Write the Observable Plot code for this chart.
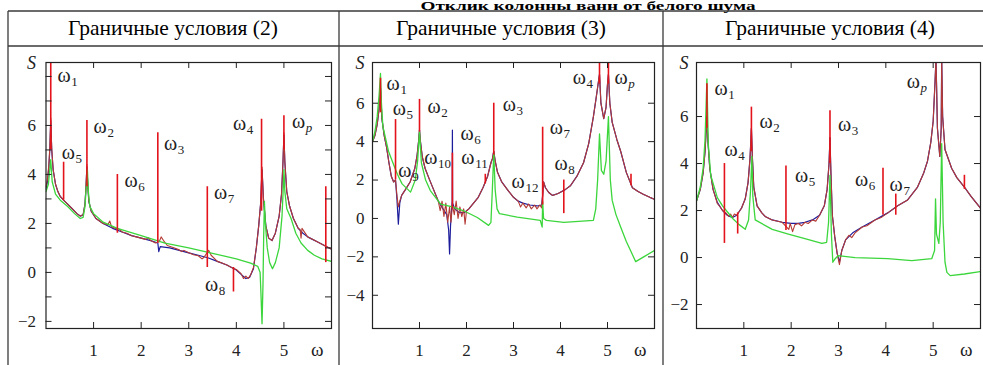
<!DOCTYPE html>
<html><head><meta charset="utf-8">
<script src="https://cdn.jsdelivr.net/npm/d3@7"></script>
<script src="https://cdn.jsdelivr.net/npm/@observablehq/plot@0.6"></script>
<style>
body{margin:0;background:#fff;}
#page{position:relative;width:983px;height:365px;overflow:hidden;font-family:"Liberation Serif","Times New Roman",Tinos,"DejaVu Serif",serif;}
#page svg{position:absolute;}
</style></head><body><div id="page"></div>
<script>
// ---------- data ----------
const figTitle = "Отклик колонны ванн от белого шума";
const panelTitles = ["Граничные условия (2)", "Граничные условия (3)", "Граничные условия (4)"];
const xTickValues = [1, 2, 3, 4, 5];

// Panel 1 (boundary conditions 2)
const p1Blue = [[0,3.4],[0.03,3.7],[0.06,4.3],[0.08,5.0],[0.1,6.2],[0.12,5.0],[0.15,4.2],[0.2,3.6],[0.25,3.3],[0.3,3.1],[0.37,2.95],[0.45,2.8],[0.55,2.6],[0.65,2.4],[0.72,2.3],[0.78,2.35],[0.82,2.8],[0.84,3.5],[0.86,4.3],[0.88,3.5],[0.9,2.9],[0.95,2.5],[1.05,2.2],[1.2,2.0],[1.4,1.8],[1.6,1.65],[1.8,1.5],[2.0,1.4],[2.2,1.3],[2.35,1.2],[2.37,0.85],[2.4,1.05],[2.6,1.0],[2.8,0.9],[3.0,0.8],[3.2,0.7],[3.4,0.6],[3.6,0.45],[3.8,0.3],[4.0,0.1],[4.1,-0.08],[4.2,-0.25],[4.28,-0.2],[4.36,0.15],[4.42,1.0],[4.47,1.9],[4.51,2.8],[4.54,4.2],[4.57,3.0],[4.62,1.9],[4.68,1.4],[4.75,1.3],[4.82,1.6],[4.9,2.3],[4.95,3.2],[4.98,4.5],[5.0,5.6],[5.02,4.5],[5.06,3.3],[5.12,2.7],[5.2,2.2],[5.3,1.8],[5.4,1.6],[5.5,1.45],[5.6,1.35],[5.7,1.25],[5.8,1.15],[5.9,1.05],[6.0,0.95]];
const p1Red = [[0,3.5],[0.03,3.8],[0.06,4.4],[0.08,5.1],[0.1,6.3],[0.12,5.1],[0.15,4.2],[0.2,3.6],[0.25,3.3],[0.3,3.1],[0.37,2.95],[0.45,2.8],[0.55,2.6],[0.65,2.4],[0.72,2.3],[0.78,2.35],[0.82,2.8],[0.84,3.5],[0.86,4.4],[0.88,3.5],[0.9,2.9],[0.95,2.5],[1.05,2.2],[1.2,2.0],[1.3,1.95],[1.34,2.1],[1.38,1.85],[1.45,1.8],[1.55,1.75],[1.6,1.65],[1.7,1.6],[1.8,1.5],[1.9,1.45],[2.0,1.4],[2.1,1.35],[2.15,1.42],[2.2,1.3],[2.3,1.2],[2.38,1.25],[2.42,1.45],[2.47,1.3],[2.55,1.1],[2.7,1.0],[2.8,0.92],[2.85,0.85],[2.9,0.9],[3.0,0.8],[3.1,0.72],[3.2,0.68],[3.28,0.55],[3.32,0.62],[3.42,0.9],[3.47,0.7],[3.6,0.45],[3.7,0.38],[3.8,0.3],[3.9,0.2],[4.0,0.12],[4.1,-0.05],[4.15,-0.25],[4.2,-0.15],[4.25,-0.25],[4.3,-0.1],[4.36,0.2],[4.42,1.0],[4.47,1.9],[4.51,2.8],[4.54,4.3],[4.57,3.0],[4.62,1.9],[4.68,1.4],[4.75,1.3],[4.82,1.6],[4.9,2.3],[4.95,3.2],[4.98,4.5],[5.0,5.7],[5.02,4.5],[5.06,3.3],[5.12,2.7],[5.2,2.2],[5.3,1.8],[5.34,1.75],[5.36,1.4],[5.38,1.8],[5.5,1.45],[5.6,1.35],[5.7,1.25],[5.8,1.15],[5.9,1.05],[6.0,0.95]];
const p1Green = [[0,3.3],[0.05,3.6],[0.1,4.6],[0.13,3.7],[0.2,3.2],[0.3,2.95],[0.45,2.7],[0.6,2.4],[0.72,2.2],[0.78,2.25],[0.82,2.7],[0.85,3.6],[0.87,4.2],[0.89,3.3],[0.92,2.7],[1.0,2.4],[1.2,2.05],[1.5,1.8],[2.0,1.5],[2.5,1.2],[3.0,1.0],[3.5,0.78],[4.0,0.55],[4.3,0.38],[4.45,0.25],[4.5,0.0],[4.52,-1.0],[4.54,-2.1],[4.56,-0.5],[4.575,1.5],[4.59,2.9],[4.61,2.0],[4.65,1.0],[4.7,0.4],[4.76,0.15],[4.82,0.4],[4.9,1.0],[4.96,2.3],[4.99,3.6],[5.0,4.2],[5.02,3.3],[5.06,2.6],[5.15,2.2],[5.25,1.6],[5.36,1.2],[5.5,0.9],[5.64,0.7],[5.8,0.55],[6.0,0.45]];
const p1Spikes = [[0.1,5.0,9.5],[0.37,2.95,4.5],[0.86,3.5,6.2],[1.5,1.6,4.0],[2.35,1.2,5.7],[3.39,0.2,3.5],[3.94,-0.8,0.2],[4.53,2.5,6.25],[5.0,5.0,6.4],[5.88,0.4,3.5]];
const p1Labels = [["1",0.24,7.76],["5",0.33,4.65],["2",1.0,5.7],["6",1.65,3.47],["3",2.48,4.98],["7",3.53,3.0],["4",3.93,5.8],["p",5.17,5.88],["8",3.34,-0.77]];

// Panel 2 (boundary conditions 3)
const p2Blue = [[0,4.0],[0.05,4.3],[0.1,4.9],[0.14,5.7],[0.17,6.8],[0.2,5.2],[0.25,4.3],[0.3,3.7],[0.35,2.9],[0.4,2.2],[0.45,1.9],[0.49,2.0],[0.52,1.0],[0.55,-0.3],[0.58,0.8],[0.62,1.2],[0.7,1.5],[0.8,1.9],[0.9,2.6],[0.95,3.3],[0.98,4.0],[1.0,4.6],[1.02,4.0],[1.06,3.2],[1.12,2.6],[1.2,2.1],[1.3,1.5],[1.4,0.9],[1.5,0.5],[1.58,0.2],[1.62,-0.6],[1.64,-1.85],[1.66,-0.4],[1.695,0.9],[1.7,4.6],[1.705,0.8],[1.75,0.5],[1.85,0.3],[1.95,0.3],[2.05,0.5],[2.15,0.8],[2.25,1.1],[2.35,1.6],[2.45,2.2],[2.52,2.9],[2.55,3.1],[2.58,3.5],[2.61,3.0],[2.66,2.4],[2.75,1.9],[2.87,1.5],[3.0,1.1],[3.1,0.9],[3.2,0.8],[3.35,0.7],[3.5,0.65],[3.6,0.7],[3.62,1.2],[3.64,1.9],[3.68,1.6],[3.75,1.35],[3.83,1.2],[3.95,1.3],[4.1,1.5],[4.21,1.7],[4.35,2.2],[4.49,2.9],[4.6,3.9],[4.7,5.3],[4.76,6.3],[4.8,7.0],[4.83,7.5],[4.86,6.0],[4.92,5.2],[4.97,5.8],[5.0,7.0],[5.02,7.5],[5.05,6.0],[5.1,5.0],[5.2,4.1],[5.28,3.5],[5.4,2.4],[5.53,1.6],[5.65,1.4],[5.77,1.25],[5.9,1.1],[6.0,1.0]];
const p2Red = [[0,4.0],[0.05,4.3],[0.1,4.9],[0.14,5.7],[0.17,6.8],[0.2,5.2],[0.25,4.3],[0.3,3.7],[0.35,2.9],[0.4,2.2],[0.45,1.9],[0.49,2.0],[0.52,1.2],[0.55,0.6],[0.58,0.9],[0.62,1.2],[0.7,1.5],[0.8,1.9],[0.9,2.6],[0.95,3.3],[0.98,4.0],[1.0,4.6],[1.02,4.0],[1.06,3.2],[1.12,2.6],[1.2,2.1],[1.3,1.5],[1.4,0.9],[1.44,0.4],[1.48,0.9],[1.52,0.1],[1.56,0.8],[1.6,-0.2],[1.64,0.6],[1.67,-0.2],[1.7,0.7],[1.74,0.2],[1.78,0.9],[1.82,0.0],[1.86,0.6],[1.9,0.1],[1.94,0.5],[1.97,-0.3],[2.0,0.4],[2.05,0.5],[2.15,0.8],[2.25,1.1],[2.35,1.6],[2.45,2.2],[2.52,2.9],[2.55,3.1],[2.58,3.5],[2.61,3.0],[2.66,2.4],[2.75,1.9],[2.87,1.5],[3.0,1.1],[3.1,0.9],[3.15,0.6],[3.2,0.8],[3.27,0.55],[3.32,0.75],[3.38,0.5],[3.45,0.7],[3.5,0.5],[3.56,0.7],[3.6,0.55],[3.62,1.2],[3.64,1.9],[3.68,1.6],[3.75,1.35],[3.83,1.2],[3.95,1.3],[4.1,1.5],[4.21,1.7],[4.35,2.2],[4.49,2.9],[4.6,3.9],[4.7,5.3],[4.76,6.3],[4.8,7.0],[4.83,7.5],[4.86,6.0],[4.92,5.2],[4.97,5.8],[5.0,7.0],[5.02,7.5],[5.05,6.0],[5.1,5.0],[5.2,4.1],[5.28,3.5],[5.4,2.4],[5.53,1.6],[5.65,1.4],[5.77,1.25],[5.9,1.1],[6.0,1.0]];
const p2Green = [[0,4.0],[0.05,4.5],[0.1,5.3],[0.14,6.4],[0.17,7.55],[0.19,6.0],[0.22,4.8],[0.34,3.5],[0.45,2.8],[0.53,2.3],[0.63,1.8],[0.81,1.37],[0.91,2.0],[0.96,3.0],[1.0,4.5],[1.04,2.9],[1.13,2.0],[1.23,1.45],[1.45,0.75],[1.7,0.6],[1.94,0.4],[2.23,0.05],[2.47,-0.36],[2.52,-0.2],[2.55,1.5],[2.58,3.4],[2.61,1.5],[2.65,0.5],[2.7,0.25],[3.08,0.07],[3.57,-0.1],[3.61,-0.45],[3.62,0.9],[3.64,0.0],[3.7,-0.1],[4.07,-0.2],[4.7,-0.1],[4.75,0.5],[4.79,2.0],[4.83,4.4],[4.87,2.5],[4.92,2.3],[4.97,3.0],[5.02,5.3],[5.06,2.0],[5.1,0.94],[5.18,0.2],[5.28,-0.45],[5.4,-1.2],[5.49,-1.67],[5.6,-2.25],[5.77,-2.0],[6.0,-1.67]];
const p2Spikes = [[0.17,5.5,7.3],[0.49,2.0,5.15],[1.0,4.5,6.2],[1.7,0.5,3.4],[2.4,1.8,2.3],[2.58,3.3,6.0],[3.62,0.7,4.75],[4.07,0.25,2.0],[4.83,7.0,8.5],[5.02,7.0,8.5],[5.5,1.7,2.3]];
const p2Labels = [["1",0.3,6.7],["5",0.43,5.4],["2",1.17,5.5],["6",1.87,4.06],["10",1.1,2.86],["11",1.89,2.86],["9",0.55,2.14],["3",2.77,5.6],["7",3.77,4.4],["12",2.96,1.56],["8",3.87,2.5],["4",4.26,7.0],["p",5.15,7.0]];

// Panel 3 (boundary conditions 4)
const p3Blue = [[0,2.4],[0.08,2.9],[0.14,3.6],[0.18,4.5],[0.21,5.6],[0.22,6.0],[0.24,5.0],[0.28,3.8],[0.35,2.9],[0.44,2.35],[0.55,2.0],[0.65,1.8],[0.76,1.7],[0.85,1.8],[0.95,2.1],[1.03,2.5],[1.09,3.2],[1.13,4.2],[1.16,5.5],[1.18,4.3],[1.21,3.0],[1.28,2.2],[1.38,1.9],[1.45,1.75],[1.6,1.6],[1.81,1.5],[2.0,1.45],[2.15,1.45],[2.29,1.5],[2.45,1.6],[2.6,1.8],[2.7,2.2],[2.76,2.9],[2.8,4.0],[2.82,5.1],[2.84,3.6],[2.87,1.8],[2.92,0.9],[2.97,0.2],[3.02,-0.2],[3.07,0.3],[3.15,0.75],[3.3,1.05],[3.5,1.3],[3.77,1.6],[4.04,1.9],[4.25,2.2],[4.46,2.45],[4.67,3.0],[4.8,3.6],[4.88,4.1],[4.95,4.9],[5.0,5.8],[5.04,7.5],[5.06,8.5],[5.09,5.5],[5.14,4.3],[5.17,5.5],[5.18,8.5],[5.2,6.0],[5.25,4.6],[5.39,3.8],[5.5,3.4],[5.66,3.0],[5.8,2.6],[6.0,2.1]];
const p3Red = [[0,2.4],[0.08,2.9],[0.14,3.6],[0.18,4.5],[0.21,5.6],[0.22,6.0],[0.24,5.0],[0.28,3.8],[0.35,2.9],[0.44,2.3],[0.5,2.15],[0.55,2.0],[0.62,1.9],[0.68,1.75],[0.72,1.85],[0.76,1.7],[0.8,1.85],[0.85,1.8],[0.95,2.1],[1.03,2.5],[1.09,3.2],[1.13,4.2],[1.16,5.5],[1.18,4.3],[1.21,3.0],[1.28,2.2],[1.38,1.9],[1.45,1.75],[1.6,1.6],[1.81,1.5],[1.95,1.2],[1.98,1.45],[2.03,1.1],[2.08,1.4],[2.15,1.45],[2.22,1.35],[2.29,1.5],[2.36,1.45],[2.45,1.6],[2.52,1.55],[2.6,1.8],[2.7,2.2],[2.76,2.9],[2.8,4.0],[2.82,5.1],[2.84,3.6],[2.87,1.8],[2.92,0.9],[2.97,0.2],[3.02,-0.3],[3.07,0.3],[3.15,0.75],[3.22,0.95],[3.28,0.85],[3.35,1.05],[3.5,1.3],[3.6,1.35],[3.77,1.6],[3.9,1.7],[4.04,1.9],[4.25,2.2],[4.46,2.45],[4.67,3.0],[4.8,3.6],[4.88,4.1],[4.95,4.9],[5.0,5.8],[5.04,7.5],[5.06,8.5],[5.09,5.5],[5.14,4.3],[5.17,5.5],[5.18,8.5],[5.2,6.0],[5.25,4.6],[5.39,3.8],[5.5,3.4],[5.66,3.0],[5.8,2.6],[6.0,2.1]];
const p3Green = [[0,2.4],[0.08,3.0],[0.14,3.8],[0.18,5.0],[0.22,7.6],[0.25,4.8],[0.3,3.5],[0.44,2.55],[0.55,2.2],[0.77,1.65],[0.9,1.4],[1.03,1.2],[1.1,1.6],[1.14,2.8],[1.17,4.3],[1.19,2.6],[1.24,1.6],[1.6,1.2],[1.94,1.0],[2.29,0.8],[2.65,0.6],[2.75,0.65],[2.79,1.5],[2.82,3.5],[2.85,1.0],[2.88,-0.2],[2.93,-0.05],[2.99,0.08],[3.35,0.0],[4.04,-0.05],[4.55,-0.13],[4.97,-0.05],[5.03,0.3],[5.05,2.5],[5.07,1.0],[5.12,0.6],[5.15,1.5],[5.18,4.85],[5.21,1.5],[5.25,-0.2],[5.29,-0.63],[5.36,-0.77],[5.66,-0.7],[6.0,-0.6]];
const p3Spikes = [[0.22,5.5,7.4],[0.59,0.6,4.0],[0.87,1.0,1.9],[1.16,4.5,6.4],[1.89,1.15,3.9],[2.82,4.0,6.25],[3.94,1.8,3.8],[4.21,1.8,2.7],[5.66,2.9,3.5]];
const p3Labels = [["1",0.38,6.9],["4",0.59,4.34],["2",1.33,5.5],["5",2.08,3.2],["3",2.99,5.4],["6",3.35,3.06],["7",4.08,2.85],["p",4.44,7.2]];

// ---------- drawing ----------
const page = d3.select("#page");
const FONT = "'Liberation Serif', 'Times New Roman', Tinos, 'DejaVu Serif', serif";
const C = {red: "#e3121b", dark: "#b53a36", blue: "#1d1d9c", green: "#3cd63c", ink: "#222"};

// table & headers
const bg = page.append("svg").attr("width", 983).attr("height", 365).style("left", 0).style("top", 0)
  .style("font-family", FONT);
bg.append("text").attr("x", 588).attr("y", 9.5).attr("text-anchor", "middle")
  .attr("font-size", 12.5).attr("font-weight", "bold")
  .attr("textLength", 335).attr("lengthAdjust", "spacingAndGlyphs").text(figTitle);
const lineC = "#3a3a3a";
[[8, 11, 983, 11], [8, 46, 983, 46], [8, 11, 8, 365], [339, 11, 339, 365], [663, 11, 663, 365]]
  .forEach(([x1, y1, x2, y2]) => bg.append("line").attr("x1", x1).attr("y1", y1).attr("x2", x2).attr("y2", y2)
    .attr("stroke", lineC).attr("stroke-width", 1.3));
[173, 501, 830].forEach((cx, i) => bg.append("text").attr("x", cx).attr("y", 35)
  .attr("text-anchor", "middle").attr("font-size", 21.5).text(panelTitles[i]));

function fmt(d) { return d < 0 ? "\u2212" + (-d) : String(d); }

function panel(cfg) {
  const H = 318, mt = 15, mb = 37;
  const fw = cfg.width - cfg.marginLeft - cfg.marginRight, fh = H - mt - mb;
  const T = 6;
  const pt = {x: d => d[0], y: d => d[1]};
  const plot = Plot.plot({
    width: cfg.width, height: H,
    marginLeft: cfg.marginLeft, marginRight: cfg.marginRight, marginTop: mt, marginBottom: mb,
    x: {domain: [0, 6]},
    y: {domain: cfg.yDomain},
    style: {fontFamily: FONT, fontSize: "17px", background: "transparent", color: C.ink},
    marks: [
      Plot.line(cfg.blue, {...pt, stroke: C.blue, strokeWidth: 1.2, clip: true}),
      Plot.line(cfg.red, {...pt, stroke: C.dark, strokeWidth: 1.1, clip: true}),
      Plot.line(cfg.green, {...pt, stroke: C.green, strokeWidth: 1.3, clip: true}),
      Plot.ruleX(cfg.spikes, {x: d => d[0], y1: d => d[1], y2: d => d[2], stroke: C.red, strokeWidth: 1.6, clip: true}),
      Plot.frame({stroke: C.ink, strokeWidth: 1.2}),
      Plot.tickX(xTickValues, {x: d => d, insetTop: fh - T, stroke: C.ink}),
      Plot.tickX(xTickValues, {x: d => d, insetBottom: fh - T, stroke: C.ink}),
      Plot.tickY(cfg.yTicks, {y: d => d, insetRight: fw - T, stroke: C.ink}),
      Plot.tickY(cfg.yTicks, {y: d => d, insetLeft: fw - T, stroke: C.ink}),
      Plot.axisX(xTickValues, {tickSize: 0, tickPadding: 15, label: null, tickFormat: fmt, fontSize: 17}),
      Plot.axisY(cfg.yLabels, {tickSize: 0, tickPadding: cfg.yPad, label: null, tickFormat: fmt, fontSize: 17}),
      Plot.text(["S"], {text: d => d, frameAnchor: "top-left", dx: -cfg.yPad, dy: 6, textAnchor: "end", lineAnchor: "bottom", fontStyle: "italic", fontSize: 18}),
      Plot.text(["ω"], {text: d => d, frameAnchor: "bottom-right", dx: -8, dy: 27, lineAnchor: "bottom", fontSize: 19}),
      Plot.text(cfg.labels, {x: d => d[1], y: d => d[2], text: () => "ω", textAnchor: "start", lineAnchor: "bottom", fontSize: 20}),
      Plot.text(cfg.labels.filter(d => d[0] !== "p"), {x: d => d[1], y: d => d[2], text: d => d[0], dx: 13.8, dy: 4, textAnchor: "start", lineAnchor: "bottom", fontSize: 13}),
      Plot.text(cfg.labels.filter(d => d[0] === "p"), {x: d => d[1], y: d => d[2], text: d => d[0], dx: 13.8, dy: 4, textAnchor: "start", lineAnchor: "bottom", fontSize: 13, fontStyle: "italic"})
    ]
  });
  d3.select(plot).style("left", cfg.left + "px").style("top", "47px");
  page.node().appendChild(plot);
}

panel({left: 8, width: 331, marginLeft: 37.5, marginRight: 8, yDomain: [-2.29, 8.57],
  yTicks: [-2, -1, 0, 1, 2, 3, 4, 5, 6, 7, 8], yLabels: [-2, 0, 2, 4, 6], yPad: 10,
  blue: p1Blue, red: p1Red, green: p1Green, spikes: p1Spikes, labels: p1Labels});
panel({left: 340, width: 323, marginLeft: 32, marginRight: 9, yDomain: [-5.73, 8.12],
  yTicks: [-4, -2, 0, 2, 4, 6], yLabels: [-4, -2, 0, 2, 4, 6], yPad: 8,
  blue: p2Blue, red: p2Red, green: p2Green, spikes: p2Spikes, labels: p2Labels});
panel({left: 664, width: 319, marginLeft: 32, marginRight: 3, yDomain: [-3.02, 8.3],
  yTicks: [-2, 0, 2, 4, 6], yLabels: [-2, 0, 2, 4, 6], yPad: 8,
  blue: p3Blue, red: p3Red, green: p3Green, spikes: p3Spikes, labels: p3Labels});
</script></body></html>
